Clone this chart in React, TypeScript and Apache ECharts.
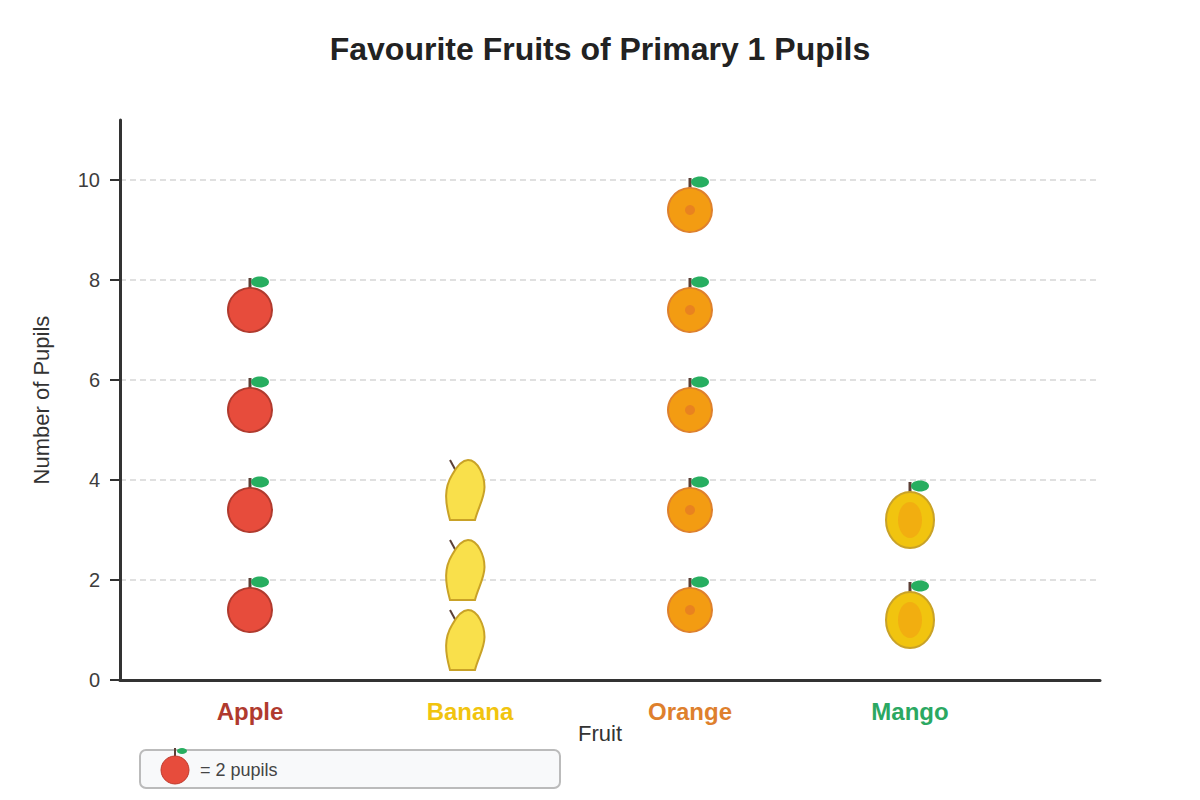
import React, { useEffect, useRef } from "react";
import * as echarts from "echarts";

const FONT = '"Liberation Sans", Arial, Helvetica, sans-serif';

const titleText = "Favourite Fruits of Primary 1 Pupils";
const categories = ["Apple", "Banana", "Orange", "Mango"];
const categoryColors = ["#b03a2e", "#f1c40f", "#de802d", "#2ba862"];
const yTicks = [0, 2, 4, 6, 8, 10];
// icon centre heights on the pupils scale
const appleIcons = [1.4, 3.4, 5.4, 7.4];
const bananaIcons = [0.8, 2.2, 3.8];
const orangeIcons = [1.4, 3.4, 5.4, 7.4, 9.4];
const mangoIcons = [1.2, 3.2];

const BANANA_PATH =
  "M-20,30 C-25,12 -26,-2 -18,-15 C-13,-24 -7,-30 -2,-30 C8,-30 14.5,-14 14.5,-3 C14.5,8 8,18 5,30 Z";

const stem = (cx: number, top: number, h: number, w: number) => ({
  type: "rect",
  shape: { x: cx - w / 2, y: top, width: w, height: h },
  style: { fill: "#5d4037" },
});
const leaf = (cx: number, cy: number, rx: number, ry: number) => ({
  type: "ellipse",
  shape: { cx, cy, rx, ry },
  style: { fill: "#27ae60" },
});

const renderApple = (_: any, api: any) => {
  const [x, y] = api.coord([api.value(0), api.value(1)]);
  return {
    type: "group",
    children: [
      stem(x, y - 32, 11, 3),
      leaf(x + 10, y - 28, 9, 5.5),
      {
        type: "circle",
        shape: { cx: x, cy: y, r: 22 },
        style: { fill: "#e74c3c", stroke: "#b03a2e", lineWidth: 2 },
      },
    ],
  };
};

const renderOrange = (_: any, api: any) => {
  const [x, y] = api.coord([api.value(0), api.value(1)]);
  return {
    type: "group",
    children: [
      stem(x, y - 32, 11, 3),
      leaf(x + 10, y - 28, 9, 5.5),
      {
        type: "circle",
        shape: { cx: x, cy: y, r: 22 },
        style: { fill: "#f39c12", stroke: "#de802d", lineWidth: 2 },
      },
      { type: "circle", shape: { cx: x, cy: y, r: 5 }, style: { fill: "#e67e22", opacity: 0.85 } },
    ],
  };
};

const renderBanana = (_: any, api: any) => {
  const [x, y] = api.coord([api.value(0), api.value(1)]);
  return {
    type: "group",
    children: [
      {
        type: "line",
        shape: { x1: x - 20, y1: y - 30, x2: x - 14, y2: y - 19 },
        style: { stroke: "#5d4037", lineWidth: 2 },
      },
      {
        type: "path",
        x,
        y,
        shape: { pathData: BANANA_PATH },
        style: { fill: "#f9e04b", stroke: "#c9a227", lineWidth: 2 },
      },
    ],
  };
};

const renderMango = (_: any, api: any) => {
  const [x, y] = api.coord([api.value(0), api.value(1)]);
  return {
    type: "group",
    children: [
      stem(x, y - 38, 11, 3),
      leaf(x + 10, y - 34, 9, 5.5),
      {
        type: "ellipse",
        shape: { cx: x, cy: y, rx: 24, ry: 28 },
        style: { fill: "#f1c40f", stroke: "#c9a227", lineWidth: 2 },
      },
      {
        type: "ellipse",
        shape: { cx: x, cy: y, rx: 12, ry: 18 },
        style: { fill: "#f39c12", opacity: 0.55 },
      },
    ],
  };
};

const fruitSeries = (
  name: string,
  index: number,
  values: number[],
  renderItem: any
) => ({
  type: "custom",
  name,
  xAxisIndex: 1,
  yAxisIndex: 1,
  clip: false,
  renderItem,
  data: values.map((v) => [index, v]),
});

export default function App() {
  const ref = useRef<HTMLDivElement>(null);

  useEffect(() => {
    const chart = echarts.init(ref.current!, null, { renderer: "svg" });
    chart.setOption({
      animation: false,
      backgroundColor: "#ffffff",
      textStyle: { fontFamily: FONT },
      title: {
        text: titleText,
        left: "center",
        top: 28,
        textStyle: { fontFamily: FONT, fontSize: 32, fontWeight: "bold", color: "#222222" },
      },
      grid: [
        { left: 120, right: 100, top: 120, bottom: 120 },
        { left: 140, width: 880, top: 120, bottom: 120 },
      ],
      xAxis: [
        {
          gridIndex: 0,
          type: "value",
          min: 0,
          max: 1,
          splitLine: { show: false },
          axisTick: { show: false },
          axisLabel: { show: false },
          axisLine: { onZero: false, lineStyle: { color: "#333333", width: 3 } },
          name: "Fruit",
          nameLocation: "middle",
          nameGap: 42,
          nameTextStyle: { fontSize: 22, color: "#333333", padding: [0, 20, 0, 0] },
        },
        {
          gridIndex: 1,
          type: "category",
          data: categories.map((value, i) => ({
            value,
            textStyle: { color: categoryColors[i] },
          })),
          axisLine: { show: false },
          axisTick: { show: false },
          axisLabel: { fontSize: 24, fontWeight: "bold", margin: 19, fontFamily: FONT },
        },
      ],
      yAxis: [
        {
          gridIndex: 0,
          type: "value",
          min: 0,
          max: 11.2,
          interval: 2,
          name: "Number of Pupils",
          nameLocation: "middle",
          nameGap: 68,
          nameTextStyle: { fontSize: 22, color: "#333333" },
          axisLine: { show: true, onZero: false, lineStyle: { color: "#333333", width: 3 } },
          axisTick: {
            show: true,
            length: 10,
            lineStyle: { color: "#333333", width: 2 },
            customValues: yTicks,
          },
          axisLabel: { fontSize: 20, color: "#3d3d3d", margin: 20, padding: [0, 0, 2, 0], customValues: yTicks },
          splitLine: {
            show: true,
            showMinLine: false,
            lineStyle: { color: "#e0e0e0", width: 2, type: [6, 4] },
          },
        },
        {
          gridIndex: 1,
          type: "value",
          min: 0,
          max: 11.2,
          show: false,
          splitLine: { show: false },
        },
      ],
      series: [
        fruitSeries("Apple", 0, appleIcons, renderApple),
        fruitSeries("Banana", 1, bananaIcons, renderBanana),
        fruitSeries("Orange", 2, orangeIcons, renderOrange),
        fruitSeries("Mango", 3, mangoIcons, renderMango),
      ],
      graphic: [
        {
          type: "group",
          children: [
            {
              type: "rect",
              shape: { x: 140, y: 750, width: 420, height: 38, r: 6 },
              style: { fill: "#f8f9fa", stroke: "#bbbbbb", lineWidth: 2 },
            },
            {
              type: "rect",
              shape: { x: 174, y: 748, width: 2, height: 8 },
              style: { fill: "#5d4037" },
            },
            {
              type: "ellipse",
              shape: { cx: 182, cy: 751, rx: 5, ry: 3 },
              style: { fill: "#27ae60" },
            },
            {
              type: "circle",
              shape: { cx: 175, cy: 770, r: 14 },
              style: { fill: "#e74c3c", stroke: "#c0392b", lineWidth: 1 },
            },
            {
              type: "text",
              x: 200,
              y: 770,
              style: {
                text: "= 2 pupils",
                fontFamily: FONT,
                fontSize: 18,
                fill: "#444444",
                textVerticalAlign: "middle",
              },
            },
          ],
        },
      ],
    });
    return () => chart.dispose();
  }, []);

  return (
    <div
      ref={ref}
      style={{ position: "fixed", left: 0, top: 0, width: 1200, height: 800 }}
    />
  );
}
